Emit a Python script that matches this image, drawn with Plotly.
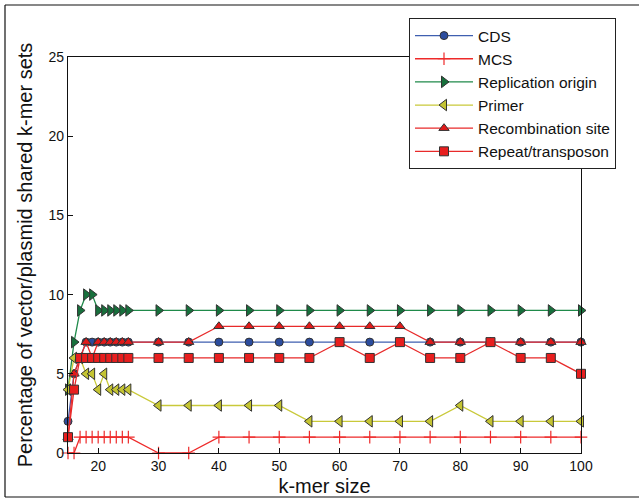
import plotly.graph_objects as go

kmer = [15, 16, 17, 18, 19, 20, 21, 22, 23, 24, 25, 30, 35, 40, 45, 50, 55, 60, 65, 70, 75, 80, 85, 90, 95, 100]

cds =     [2, 5, 6, 7, 7, 7, 7, 7, 7, 7, 7, 7, 7, 7, 7, 7, 7, 7, 7, 7, 7, 7, 7, 7, 7, 7]
mcs =     [0, 0, 1, 1, 1, 1, 1, 1, 1, 1, 1, 0, 0, 1, 1, 1, 1, 1, 1, 1, 1, 1, 1, 1, 1, 1]
rep_ori = [4, 7, 9, 10, 10, 9, 9, 9, 9, 9, 9, 9, 9, 9, 9, 9, 9, 9, 9, 9, 9, 9, 9, 9, 9, 9]
primer =  [4, 6, 6, 5, 5, 4, 5, 4, 4, 4, 4, 3, 3, 3, 3, 3, 2, 2, 2, 2, 2, 3, 2, 2, 2, 2]
recomb =  [1, 5, 6, 7, 6, 7, 7, 7, 7, 7, 7, 7, 7, 8, 8, 8, 8, 8, 8, 8, 7, 7, 7, 7, 7, 7]
repeat =  [1, 4, 6, 6, 6, 6, 6, 6, 6, 6, 6, 6, 6, 6, 6, 6, 6, 7, 6, 7, 6, 6, 7, 6, 6, 5]

x_ticks = [20, 30, 40, 50, 60, 70, 80, 90, 100]
y_ticks = [0, 5, 10, 15, 20, 25]

series = [
    ("CDS", cds, "#3f5fb0", "#2b4c9e", "circle", 8),
    ("MCS", mcs, "#ee2a2a", "#ee2a2a", "cross-thin", 9),
    ("Replication origin", rep_ori, "#1f8a4a", "#17703c", "triangle-right", 10),
    ("Primer", primer, "#c9c93a", "#c4c432", "triangle-left", 10),
    ("Recombination site", recomb, "#e82a2a", "#e21a1a", "triangle-up", 9),
    ("Repeat/transposon", repeat, "#e82a2a", "#e81e1e", "square", 9),
]

fig = go.Figure()
for name, vals, lc, fc, sym, sz in series:
    if sym == "cross-thin":
        marker = dict(symbol="cross-thin", size=sz, color=lc, line=dict(color=lc, width=1.2))
    else:
        marker = dict(symbol=sym, size=sz, color=fc, line=dict(color="#333333", width=1))
    fig.add_trace(go.Scatter(
        x=kmer, y=vals, name=name, mode="lines+markers",
        line=dict(color=lc, width=1.3), marker=marker, cliponaxis=False,
    ))

L, R, T, B = 68, 58, 57, 49
W, H = 639, 502
pw, ph = W - L - R, H - T - B

def px(xp):
    return (xp - L) / pw

def py(yp):
    return (H - B - yp) / ph

fig.update_layout(
    width=W, height=H,
    margin=dict(l=L, r=R, t=T, b=B, pad=0, autoexpand=False),
    paper_bgcolor="white", plot_bgcolor="white",
    font=dict(family="Liberation Sans, Arial, sans-serif", color="#111111"),
    showlegend=True,
    legend=dict(
        x=px(409), y=py(18), xanchor="left", yanchor="top",
        bgcolor="white", bordercolor="#222222", borderwidth=1,
        font=dict(size=15.5, color="#111111"), itemwidth=58, tracegroupgap=0,
    ),
    xaxis=dict(
        range=[15, 100], tickvals=x_ticks, ticktext=[str(v) for v in x_ticks],
        ticks="inside", ticklen=5, tickcolor="#111", showline=True, linecolor="#111",
        linewidth=1.2, mirror=True, showgrid=False, zeroline=False,
        tickfont=dict(size=14), automargin=False,
        title=dict(text="k-mer size", font=dict(size=20), standoff=6),
    ),
    yaxis=dict(
        range=[0, 25], tickvals=y_ticks, ticktext=[str(v) for v in y_ticks],
        ticks="inside", ticklen=5, tickcolor="#111", showline=True, linecolor="#111",
        linewidth=1.2, mirror=True, showgrid=False, zeroline=False,
        tickfont=dict(size=14), automargin=False,
        title=dict(text="Percentage of vector/plasmid shared k-mer sets", font=dict(size=20), standoff=10),
    ),
    shapes=[
        dict(type="line", xref="paper", yref="paper", x0=px(5), x1=px(645), y0=py(5), y1=py(5),
             line=dict(color="#111", width=1.2)),
        dict(type="line", xref="paper", yref="paper", x0=px(5), x1=px(5), y0=py(5), y1=py(497),
             line=dict(color="#111", width=1.2)),
        dict(type="line", xref="paper", yref="paper", x0=px(5), x1=px(645), y0=py(497), y1=py(497),
             line=dict(color="#111", width=1.2)),
    ],
)

fig.write_html(
    "out.html",
    config={"displayModeBar": False},
    post_script="document.body.style.margin='0';document.body.style.padding='0';",
)
